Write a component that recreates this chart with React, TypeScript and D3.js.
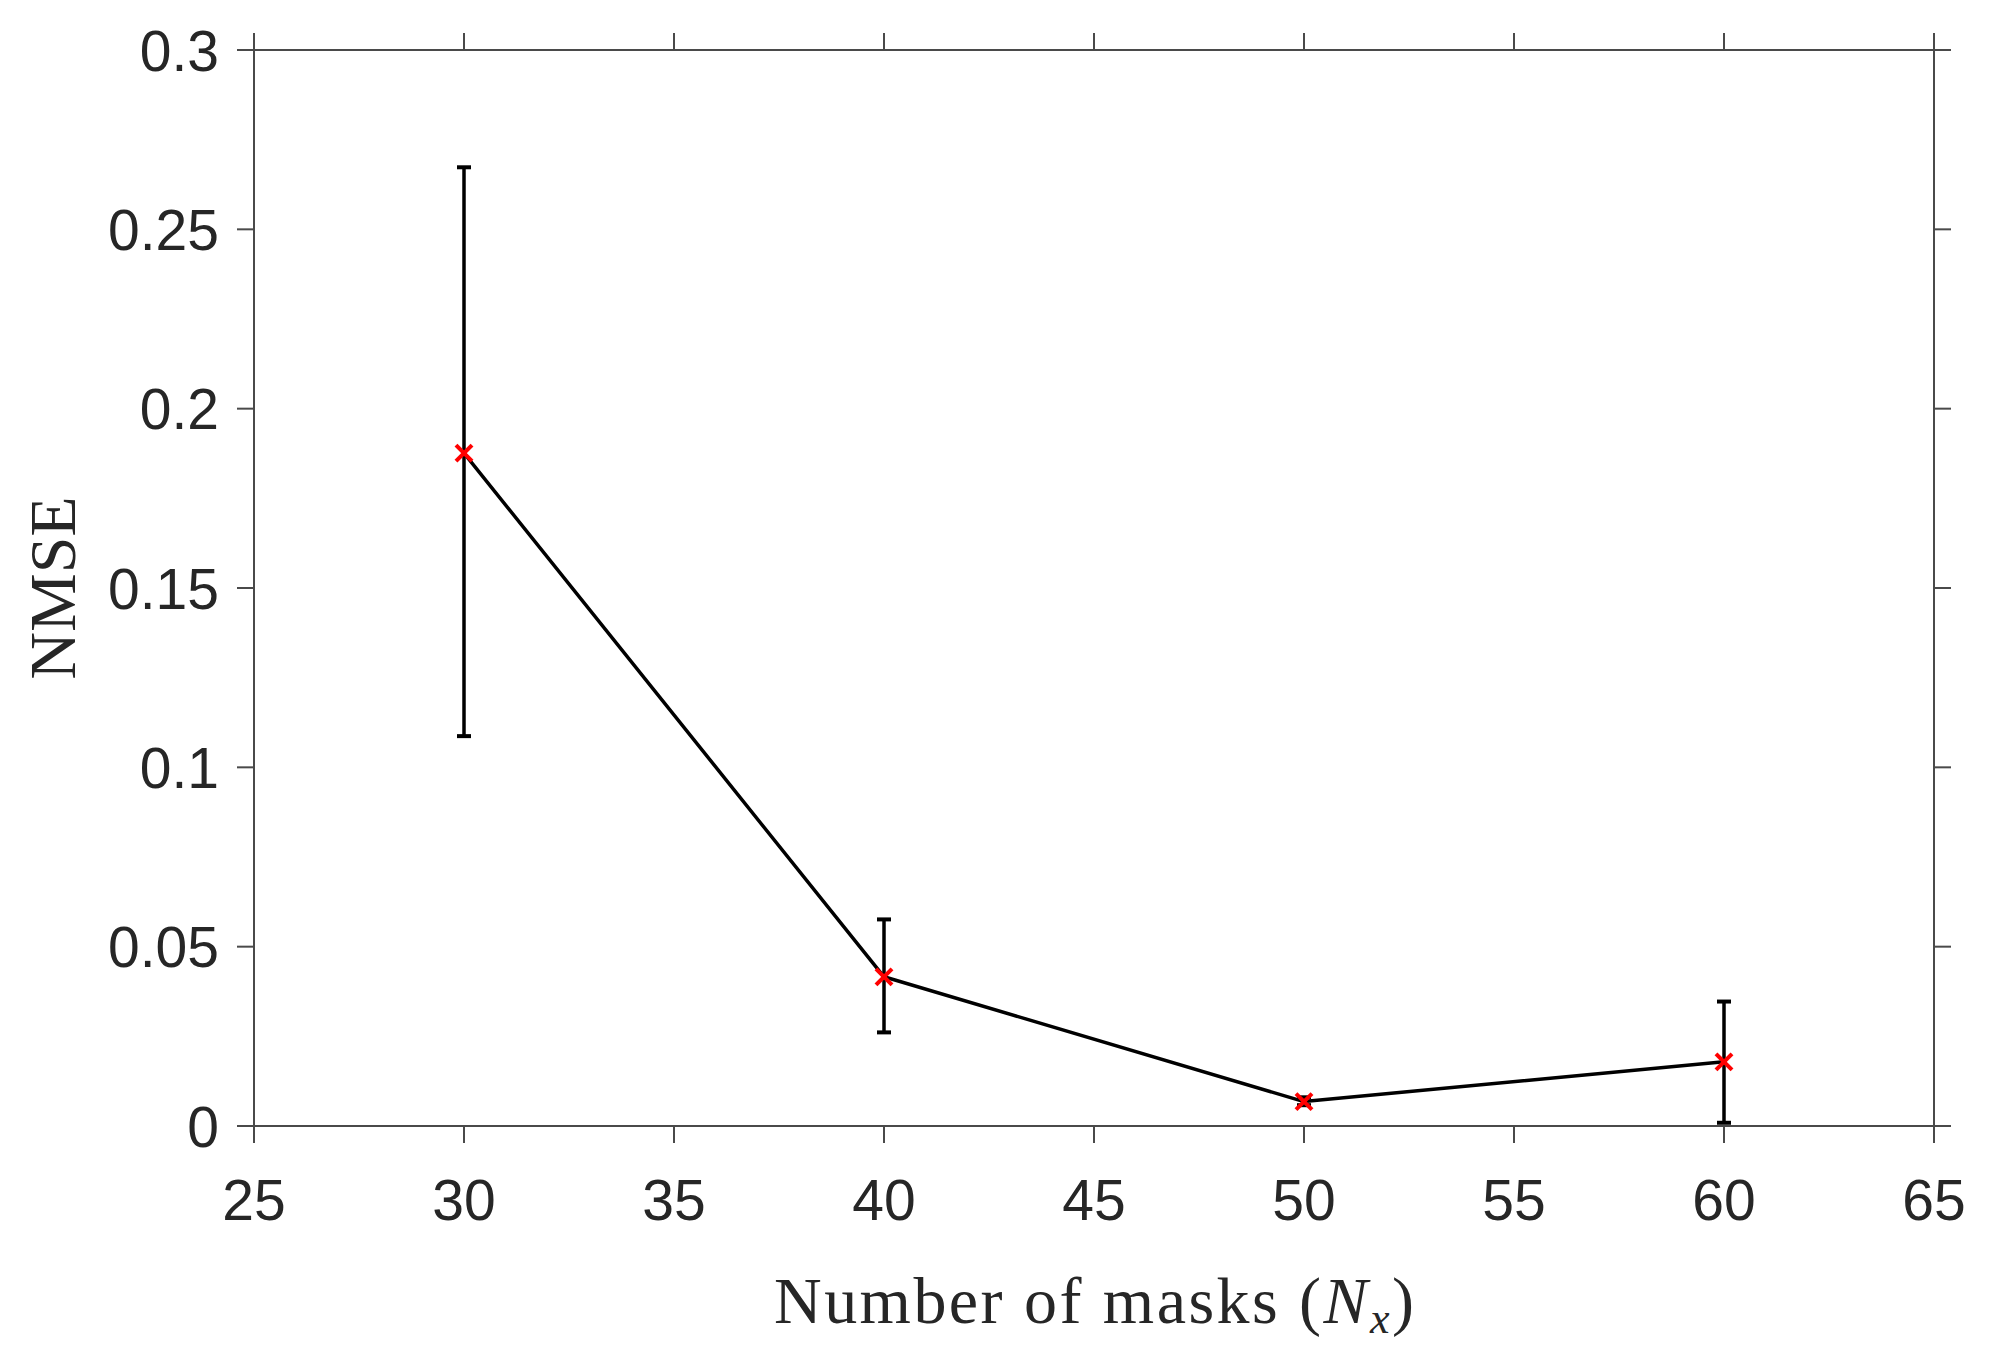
import React from 'react'
import * as d3 from 'd3'

// number of masks, mean NMSE and error bar ends
const masks = [30, 40, 50, 60]
const nmse = [0.1876, 0.0416, 0.0068, 0.0179]
const errLow = [0.1087, 0.0261, 0.0058, 0.0009]
const errHigh = [0.2673, 0.0576, 0.0080, 0.0347]

const xTicks = [25, 30, 35, 40, 45, 50, 55, 60, 65]
const yTicks = [0, 0.05, 0.1, 0.15, 0.2, 0.25, 0.3]

const width = 2008
const height = 1370
const plot = { left: 254, right: 1934, top: 50, bottom: 1126 }
const tickLen = 17
const axisColor = '#4a4a4a'
const textColor = '#262626'

const xScale = d3.scaleLinear().domain([25, 65]).range([plot.left, plot.right])
const yScale = d3.scaleLinear().domain([0, 0.3]).range([plot.bottom, plot.top])

const fmtY = (d: number) => (d === 0 ? '0' : String(+d.toFixed(2)))

export default function App () {
  const points = masks.map((m, i) => ({ x: m, y: nmse[i], lo: errLow[i], hi: errHigh[i] }))
  const line = d3.line<{ x: number, y: number }>()
    .x(d => xScale(d.x))
    .y(d => yScale(d.y))

  const capHalf = 7
  const mk = 8

  return (
    <svg width={width} height={height} style={{ position: 'absolute', left: 0, top: 0, background: '#fff' }}>
      <rect x={0} y={0} width={width} height={height} fill='#fff' />

      {/* box */}
      <rect x={plot.left} y={plot.top} width={plot.right - plot.left} height={plot.bottom - plot.top}
        fill='none' stroke={axisColor} strokeWidth={2} />

      {/* ticks on all four sides, pointing out */}
      <g stroke={axisColor} strokeWidth={2}>
        {xTicks.map(t => (
          <g key={'xt' + t}>
            <line x1={xScale(t)} x2={xScale(t)} y1={plot.bottom} y2={plot.bottom + tickLen} />
            <line x1={xScale(t)} x2={xScale(t)} y1={plot.top} y2={plot.top - tickLen} />
          </g>
        ))}
        {yTicks.map(t => (
          <g key={'yt' + t}>
            <line x1={plot.left - tickLen} x2={plot.left} y1={yScale(t)} y2={yScale(t)} />
            <line x1={plot.right} x2={plot.right + tickLen} y1={yScale(t)} y2={yScale(t)} />
          </g>
        ))}
      </g>

      {/* tick labels */}
      <g fill={textColor} fontFamily='"Liberation Sans", Arial, sans-serif' fontSize={57}>
        {xTicks.map(t => (
          <text key={'xl' + t} x={xScale(t)} y={1220} textAnchor='middle'>{t}</text>
        ))}
        {yTicks.map(t => (
          <text key={'yl' + t} x={plot.left - tickLen - 18} y={yScale(t)} dy='0.36em' textAnchor='end'>{fmtY(t)}</text>
        ))}
      </g>

      {/* axis titles */}
      <text x={(plot.left + plot.right) / 2} y={1323} textAnchor='middle' fill={textColor}
        fontFamily='"Liberation Serif", "Times New Roman", serif' fontSize={66}
        textLength={640} lengthAdjust='spacing'>
        Number of masks (<tspan fontStyle='italic'>N</tspan><tspan fontStyle='italic' fontSize={44} dy={10}>x</tspan><tspan dy={-10}>)</tspan>
      </text>
      <text transform={`translate(75, ${(plot.top + plot.bottom) / 2}) rotate(-90)`} textAnchor='middle'
        fill={textColor} fontFamily='"Liberation Serif", "Times New Roman", serif' fontSize={66}>
        NMSE
      </text>

      {/* error bars */}
      <g stroke='#000' strokeWidth={3.5}>
        {points.map(p => (
          <g key={'eb' + p.x}>
            <line x1={xScale(p.x)} x2={xScale(p.x)} y1={yScale(p.lo)} y2={yScale(p.hi)} />
            <line x1={xScale(p.x) - capHalf} x2={xScale(p.x) + capHalf} y1={yScale(p.lo)} y2={yScale(p.lo)} strokeWidth={4} />
            <line x1={xScale(p.x) - capHalf} x2={xScale(p.x) + capHalf} y1={yScale(p.hi)} y2={yScale(p.hi)} strokeWidth={4} />
          </g>
        ))}
      </g>

      {/* mean line */}
      <path d={line(points) || ''} fill='none' stroke='#000' strokeWidth={3.5} strokeLinejoin='round' />

      {/* red x markers */}
      <g stroke='#ff0000' strokeWidth={4}>
        {points.map(p => (
          <g key={'mk' + p.x}>
            <line x1={xScale(p.x) - mk} x2={xScale(p.x) + mk} y1={yScale(p.y) - mk} y2={yScale(p.y) + mk} />
            <line x1={xScale(p.x) - mk} x2={xScale(p.x) + mk} y1={yScale(p.y) + mk} y2={yScale(p.y) - mk} />
          </g>
        ))}
      </g>
    </svg>
  )
}
